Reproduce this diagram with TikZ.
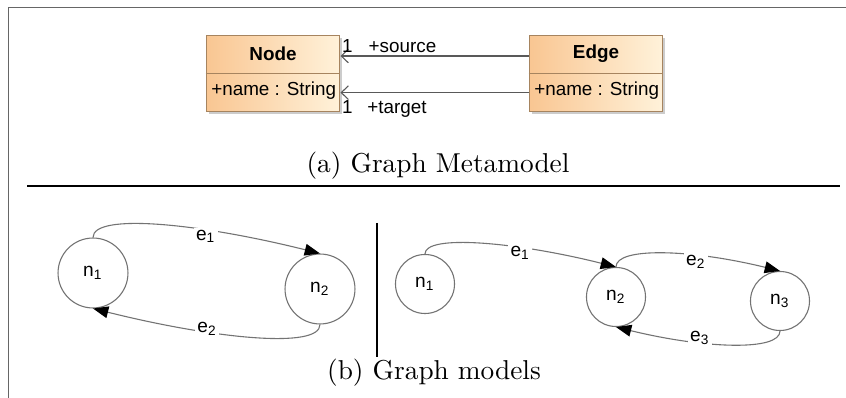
\documentclass[tikz,border=0pt]{standalone}
\usepackage{fontspec}
\newfontfamily\umlfont{Liberation Sans}
\usetikzlibrary{arrows.meta,shadows}
\definecolor{umlborder}{HTML}{A6845F}
\definecolor{umlleft}{HTML}{F9C692}
\definecolor{umlright}{HTML}{FFF2DA}

\begin{document}
\begin{tikzpicture}
            [x=0.366pt, y=-0.366pt,
                frame/.style={draw=black!60, line width=0.7pt},
                sep/.style={black, line width=0.55pt},
                classbox/.style={draw=umlborder, left color=umlleft, right color=umlright, minimum width=49pt, minimum height=27.5pt, inner sep=0pt, drop shadow={shadow xshift=0.9pt, shadow yshift=-0.9pt, fill=black!40, opacity=0.5}},
                divider/.style={draw=umlborder},
                clsname/.style={font=\umlfont\fontsize{6.9}{8}\selectfont\bfseries, inner sep=0pt},
                umltext/.style={font=\umlfont\fontsize{6.9}{8}\selectfont, inner sep=1pt},
                assoc/.style={draw=black!65, -{Straight Barb[length=2.6pt,width=5pt]}},
                state/.style={circle, draw=black!55, font=\umlfont\fontsize{7}{8}\selectfont, inner sep=0pt},
                trans/.style={draw=black!55, -{Triangle[length=5.6pt,width=4.3pt,black]}},
                elabel/.style={fill=white, font=\umlfont\fontsize{7}{8}\selectfont, inner sep=0.8pt},
                caption/.style={anchor=base, inner sep=0pt}]
            \useasboundingbox (0,0) rectangle (846,398);
            %frame round the figure and the separators
            \draw[frame] (8.5,398) -- (8.5,7.5) -- (846,7.5);
            \draw[sep] (27,186) -- (840,186);
            \draw[sep] (377,223) -- (377,357);

            %metamodel: the two classes
            \node[classbox] (nodecls) at (273,73.5) {};
            \node[classbox] (edgecls) at (596,73.5) {};
            \draw[divider] (nodecls.west) -- (nodecls.east);
            \draw[divider] (edgecls.west) -- (edgecls.east);
            \node[clsname] (nodename) at (273,54) {Node};
            \node[clsname] (edgename) at (596,54) {Edge};
            \node[umltext, anchor=west] (nodeattr) at (208,91) {+name : String};
            \node[umltext, anchor=west] (edgeattr) at (531,91) {+name : String};

            %metamodel: the two associations
            \draw[assoc] ([yshift=6.4pt]edgecls.west) -- node[umltext, above, pos=0.67] {+source} node[umltext, above, pos=0.963] {1} ([yshift=6.4pt]nodecls.east);
            \draw[assoc] ([yshift=-7pt]edgecls.west) -- node[umltext, below, pos=0.7, yshift=-1.8pt] {+target} node[umltext, below, pos=0.963, yshift=-1.8pt] {1} ([yshift=-7pt]nodecls.east);
            \node[caption] (capa) at (438,173) {(a) Graph Metamodel};

            %first model
            \node[state, minimum size=25.6pt] (ln1) at (93,273) {n\textsubscript{1}};
            \node[state, minimum size=25.6pt] (ln2) at (320,289) {n\textsubscript{2}};
            \draw[trans] (ln1.north) .. controls +(0,-25) and +(-120,-30) .. node[elabel, pos=0.66, yshift=-2.3pt] {e\textsubscript{1}} (ln2.north);
            \draw[trans] (ln2.south) .. controls +(0,25) and +(120,30) .. node[elabel, pos=0.66, yshift=1pt] {e\textsubscript{2}} (ln1.south);

            %second model
            \node[state, minimum size=21.6pt] (rn1) at (425,284) {n\textsubscript{1}};
            \node[state, minimum size=21.6pt] (rn2) at (616,297) {n\textsubscript{2}};
            \node[state, minimum size=21.6pt] (rn3) at (780,301) {n\textsubscript{3}};
            \draw[trans] (rn1.north) .. controls +(0,-20) and +(-100,-25) .. node[elabel, pos=0.66, yshift=-2pt] {e\textsubscript{1}} (rn2.north);
            \draw[trans] (rn2.north) .. controls +(0,-20) and +(-90,-22) .. node[elabel, pos=0.66, yshift=-2.2pt] {e\textsubscript{2}} (rn3.north);
            \draw[trans] (rn3.south) .. controls +(0,20) and +(90,22) .. node[elabel, pos=0.66, yshift=1.8pt] {e\textsubscript{3}} (rn2.south);
            \node[caption] (capb) at (434,380) {(b) Graph models};
        \end{tikzpicture}
\end{document}
